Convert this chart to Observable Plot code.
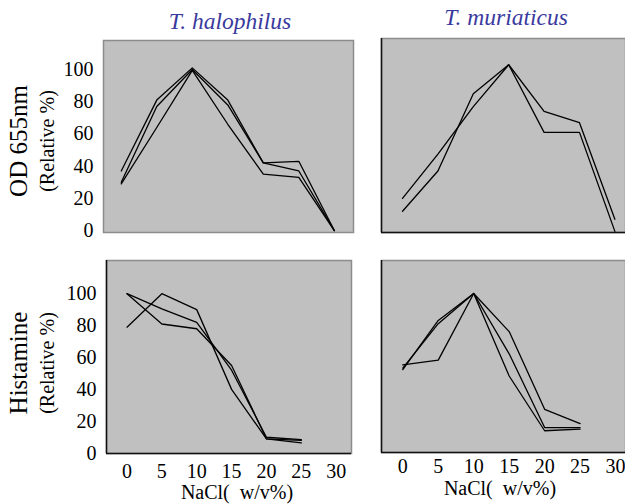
<!DOCTYPE html>
<html><head><meta charset="utf-8">
<script src="https://cdn.jsdelivr.net/npm/d3@7"></script>
<script src="https://cdn.jsdelivr.net/npm/@observablehq/plot@0.6"></script>
<style>
body{margin:0;background:#fff;}
#wrap{position:relative;width:625px;height:504px;overflow:hidden;font-family:"Liberation Serif","DejaVu Serif",serif;}
#wrap svg, #wrap svg text{font-family:"Liberation Serif","DejaVu Serif",serif !important;}
.p{position:absolute;}
.t{position:absolute;white-space:nowrap;color:#000;font-family:"Liberation Serif","DejaVu Serif",serif;line-height:1;}
.title{font-style:italic;color:#3a3a9e;font-size:23.5px;transform:translate(-50%,-50%);}
.rot{transform:translate(-50%,-50%) rotate(-90deg);}
</style></head>
<body><div id="wrap"></div>
<script>
const nacl = [0, 5, 10, 15, 20, 25, 30];
const naclHist = [0, 5, 10, 15, 20, 25];
const xTicks = [0, 5, 10, 15, 20, 25, 30];
const yTicks = [0, 20, 40, 60, 80, 100];

// T. halophilus, OD 655nm
const halOD1 = [37, 81, 101, 81, 42, 43, 0];
const halOD2 = [30, 77, 100, 78, 42, 37, 0];
const halOD3 = [29, 64, 99.5, 66, 35, 33, 0];
// T. muriaticus, OD 655nm
const murOD1 = [20, 47.5, 77, 103, 61, 61, -0.5];
const murOD2 = [12, 37, 85, 103, 74, 67, 7];
// T. halophilus, Histamine
const halHis1 = [100, 81, 78, 55, 9, 8];
const halHis2 = [79, 100, 90, 40, 9, 6.5];
const halHis3 = [100, 90.5, 82, 52, 10, 8.5];
// T. muriaticus, Histamine
const murHis1 = [55, 58, 100, 76, 27, 18];
const murHis2 = [52, 83, 100, 62, 15.5, 15.5];
const murHis3 = [53, 81, 100, 48, 13.5, 14.5];

function rows(xs, series){
  const out=[];
  series.forEach((s,k)=>s.forEach((v,i)=>out.push({x:xs[i], y:v, s:k})));
  return out;
}

const wrap = document.getElementById("wrap");
function place(el, left, top){ el.classList.add("p"); el.style.left=left+"px"; el.style.top=top+"px"; wrap.appendChild(el); }
function text(str, x, y, cls, style){ const d=document.createElement("div"); d.className="t "+(cls||""); d.textContent=str; d.style.left=x+"px"; d.style.top=y+"px"; Object.assign(d.style, style||{}); wrap.appendChild(d); }

function panel(o){
  const marks = [
    Plot.frame({fill:"#c0c0c0", stroke:"#8c8c8c", strokeWidth:1.5}),
  ];
  if(o.dark){
    marks.push(Plot.ruleX([o.xd[0]], {stroke:"#111", strokeWidth:1.5}));
    marks.push(Plot.ruleY([o.yd[0]], {stroke:"#111", strokeWidth:1.5}));
  }
  marks.push(Plot.line(o.data, {x:"x", y:"y", z:"s", stroke:"#000", strokeWidth:1.3, curve:"linear"}));
  if(o.yaxis) marks.push(Plot.axisY({ticks:yTicks, tickSize:0, tickPadding:10, fontSize:20, tickFormat:d=>String(d)}));
  else marks.push(Plot.axisY({ticks:[], label:null}));
  if(o.xaxis) marks.push(Plot.axisX({ticks:xTicks, tickSize:0, tickPadding:o.xpad, fontSize:20, tickFormat:d=>String(d)}));
  else marks.push(Plot.axisX({ticks:[], label:null}));
  const p = Plot.plot({
    width:o.w, height:o.h,
    marginLeft:o.ml, marginRight:o.mr, marginTop:o.mt, marginBottom:o.mb,
    x:{domain:o.xd, label:null},
    y:{domain:o.yd, label:null},
    style:{fontFamily:'"Liberation Serif", serif', fontSize:"20px", color:"#000", background:"transparent", overflow:"visible"},
    marks
  });
  place(p, o.left, o.top);
}

panel({left:0, top:0, w:360, h:250, ml:103, mr:7, mt:40, mb:18, xd:[-2.5,32.7], yd:[-1.2,118], yaxis:true, xaxis:false, dark:false,
  data:rows(nacl,[halOD1,halOD2,halOD3])});
panel({left:360, top:0, w:265, h:250, ml:21, mr:0, mt:38, mb:18, xd:[-2.97,31.5], yd:[-1.2,119.3], yaxis:false, xaxis:false, dark:true,
  data:rows(nacl,[murOD1,murOD2])});
panel({left:0, top:250, w:360, h:254, ml:106, mr:9, mt:10, mb:51, xd:[-2.94,32.2], yd:[-0.2,120.8], yaxis:true, xaxis:true, xpad:10, dark:true,
  data:rows(naclHist,[halHis1,halHis2,halHis3])});
panel({left:360, top:250, w:265, h:254, ml:21, mr:0, mt:10, mb:52, xd:[-3.0,31.4], yd:[-0.2,120.8], yaxis:false, xaxis:true, xpad:6, dark:true,
  data:rows(naclHist,[murHis1,murHis2,murHis3])});

text("T. halophilus", 230, 22, "title");
text("T. muriaticus", 506, 18, "title");
text("OD 655nm", 18, 141, "rot", {fontSize:"25px"});
text("(Relative %)", 47, 141, "rot", {fontSize:"20px"});
text("Histamine", 18, 363, "rot", {fontSize:"25px"});
text("(Relative %)", 47, 363, "rot", {fontSize:"20px"});
text("NaCl(\u00a0\u00a0w/v%)", 237, 492, "", {fontSize:"20px", transform:"translate(-50%,-50%)"});
text("NaCl(\u00a0\u00a0w/v%)", 500, 488, "", {fontSize:"20px", transform:"translate(-50%,-50%)"});
</script>
</body></html>
